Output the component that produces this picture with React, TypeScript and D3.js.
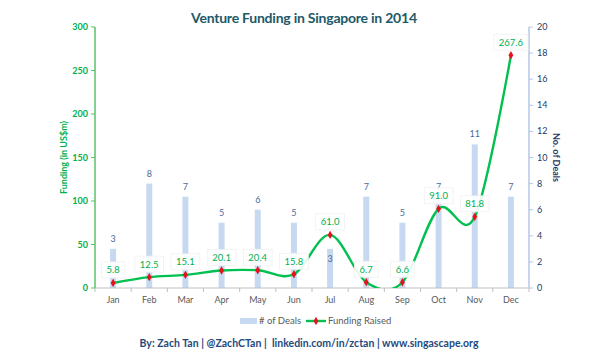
import React from "react";
import * as d3 from "d3";

const months = ["Jan", "Feb", "Mar", "Apr", "May", "Jun", "Jul", "Aug", "Sep", "Oct", "Nov", "Dec"];
const deals = [3, 8, 7, 5, 6, 5, 3, 7, 5, 7, 11, 7];
const funding = [5.8, 12.5, 15.1, 20.1, 20.4, 15.8, 61.0, 6.7, 6.6, 91.0, 81.8, 267.6];
const leftTicks = [0, 50, 100, 150, 200, 250, 300];
const rightTicks = [0, 2, 4, 6, 8, 10, 12, 14, 16, 18, 20];

const W = 600;
const H = 357;
const left = 95;
const right = 529;
const top = 27;
const bottom = 288;
const FONT = "Lato, 'Open Sans', sans-serif";
const GREEN = "#00b050";
const LINE = "#00c04f";
const BLUE_TXT = "#1f3864";

export default function App() {
  const x = d3.scaleBand<string>().domain(months).range([left, right]);
  const yL = d3.scaleLinear().domain([0, 300]).range([bottom, top]);
  const yR = d3.scaleLinear().domain([0, 20]).range([bottom, top]);
  const cx = (m: string) => (x(m) as number) + x.bandwidth() / 2;

  const line = d3
    .line<number>()
    .x((_, i) => cx(months[i]))
    .y((d) => yL(d))
    .curve(d3.curveCardinal.tension(0));

  const diamond = d3.symbol().type(d3.symbolDiamond).size(20)() as string;
  const barW = 6;

  return (
    <svg width={W} height={H} style={{ display: "block", position: "absolute", left: 0, top: 0 }} fontFamily={FONT}>
      <rect width={W} height={H} fill="#fff" />
      <defs>
        <clipPath id="plot">
          <rect x={left} y={0} width={right - left} height={bottom} />
        </clipPath>
      </defs>
      <text x={304} y={23} textAnchor="middle" fontSize={14} fontWeight="bold" fill="#215968" textLength={226}>
        Venture Funding in Singapore in 2014
      </text>

      {/* bars */}
      {deals.map((d, i) => (
        <rect
          key={"b" + i}
          x={cx(months[i]) - barW / 2}
          y={yR(d)}
          width={barW}
          height={bottom - yR(d)}
          fill="#c6d9f1"
        />
      ))}
      {deals.map((d, i) => (
        <text
          key={"bl" + i}
          x={cx(months[i])}
          y={i === 6 ? yR(d) + 13 : yR(d) - 7}
          textAnchor="middle"
          fontSize={9}
          fill="#4a6a9a"
        >
          {d}
        </text>
      ))}

      {/* axes */}
      <line x1={left} x2={right} y1={bottom} y2={bottom} stroke="#bfbfbf" strokeWidth={1} />
      {d3.range(months.length + 1).map((i) => {
        const xx = left + i * x.bandwidth();
        return <line key={"xt" + i} x1={xx} x2={xx} y1={bottom} y2={bottom + 4} stroke="#bfbfbf" />;
      })}
      {months.map((m) => (
        <text key={"xl" + m} x={cx(m)} y={303} textAnchor="middle" fontSize={9} fill="#595959">
          {m}
        </text>
      ))}

      <line x1={left} x2={left} y1={top} y2={bottom} stroke="#5cc069" strokeWidth={1.5} />
      {leftTicks.map((t) => (
        <g key={"lt" + t}>
          <line x1={left - 4} x2={left} y1={yL(t)} y2={yL(t)} stroke="#5cc069" />
          <text x={88} y={yL(t) + 3} textAnchor="end" fontSize={9} fontWeight="bold" fill={GREEN}>
            {t}
          </text>
        </g>
      ))}
      <text
        transform={`translate(67,${(top + bottom) / 2}) rotate(-90)`}
        textAnchor="middle"
        fontSize={9}
        fontWeight="bold"
        fill={GREEN}
      >
        Funding (in US$m)
      </text>

      <line x1={right} x2={right} y1={top} y2={bottom} stroke="#b4c7e7" strokeWidth={1.5} />
      {rightTicks.map((t) => (
        <g key={"rt" + t}>
          <line x1={right} x2={right + 4} y1={yR(t)} y2={yR(t)} stroke="#b4c7e7" />
          <text x={537} y={yR(t) + 3} textAnchor="start" fontSize={9} fill={BLUE_TXT}>
            {t}
          </text>
        </g>
      ))}
      <text
        transform={`translate(553,${(top + bottom) / 2}) rotate(90)`}
        textAnchor="middle"
        fontSize={9}
        fontWeight="bold"
        fill={BLUE_TXT}
      >
        No. of Deals
      </text>

      {/* funding line */}
      <path d={line(funding) as string} fill="none" stroke={LINE} strokeWidth={2.4} clipPath="url(#plot)" />
      {funding.map((f, i) => (
        <path key={"m" + i} d={diamond} transform={`translate(${cx(months[i])},${yL(f)})`} fill="#e8101a" />
      ))}
      {funding.map((f, i) => {
        const lx = cx(months[i]);
        const ly = yL(f) - 13;
        const label = f.toFixed(1);
        const bw = label.length * 5.2 + 8;
        return (
          <g key={"fl" + i}>
            <rect x={lx - bw / 2} y={ly - 8} width={bw} height={16} fill="#fff" fillOpacity={0.9} stroke="#f0f0f0" strokeWidth={0.8} />
            <text x={lx} y={ly + 3.5} textAnchor="middle" fontSize={9.5} fill={GREEN}>
              {label}
            </text>
          </g>
        );
      })}

      {/* legend */}
      <rect x={240} y={318} width={17} height={6} fill="#c6d9f1" />
      <text x={259} y={323.5} fontSize={9.5} fill="#595959">
        # of Deals
      </text>
      <line x1={306} x2={326} y1={321} y2={321} stroke={LINE} strokeWidth={2.4} />
      <path d={diamond} transform="translate(316,321)" fill="#e8101a" />
      <text x={328} y={323.5} fontSize={9.5} fill="#595959">
        Funding Raised
      </text>

      <text x={309} y={347} textAnchor="middle" fontSize={10.5} fontWeight="bold" fill="#1f497d" textLength={339}>
        {"By: Zach Tan | @ZachCTan |\u00a0 linkedin.com/in/zctan | www.singascape.org"}
      </text>
    </svg>
  );
}
